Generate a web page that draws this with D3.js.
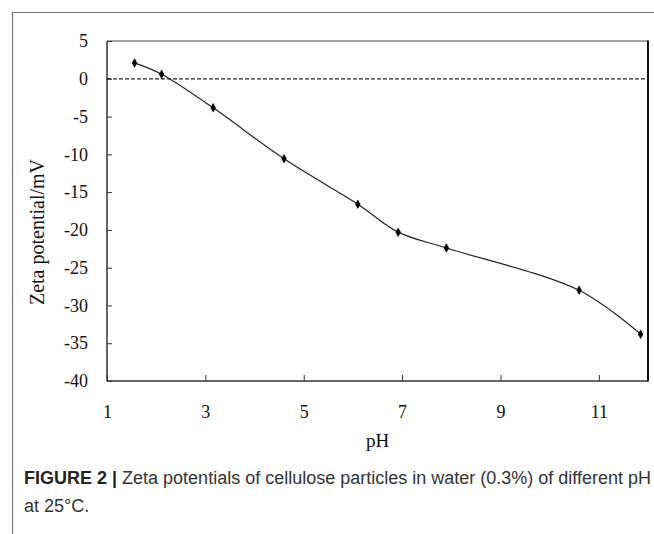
<!DOCTYPE html>
<html>
<head>
<meta charset="utf-8">
<script src="https://cdn.jsdelivr.net/npm/d3@7"></script>
<style>
  body { margin: 0; background: #fff; }
  svg { display: block; }
</style>
</head>
<body>
<svg id="chart" width="654" height="534"></svg>
<script>
// values
const phValues = [1.56, 2.11, 3.16, 4.6, 6.1, 6.92, 7.9, 10.6, 11.85];
const zetaValues = [2.1, 0.6, -3.85, -10.6, -16.6, -20.3, -22.4, -28.0, -33.8];
const xTicks = [1, 3, 5, 7, 9, 11];
const yTicks = [5, 0, -5, -10, -15, -20, -25, -30, -35, -40];

const points = phValues.map((ph, i) => ({ ph, zeta: zetaValues[i] }));

const MARGINS = { top: 41, bottom: 153, left: 107, right: 6 };
const svg = d3.select('#chart');
const width = +svg.attr('width');
const height = +svg.attr('height');
const chartWidth = width - MARGINS.left - MARGINS.right;
const chartHeight = height - MARGINS.top - MARGINS.bottom;

const scaleX = d3.scaleLinear().domain([1, 12]).range([MARGINS.left, MARGINS.left + chartWidth]);
const scaleY = d3.scaleLinear().domain([-40, 5]).range([MARGINS.top + chartHeight, MARGINS.top]);

// outer figure frame (cut off at right and bottom)
svg.append('path')
  .attr('d', `M12.5,${height + 2} V12.5 H${width + 2}`)
  .attr('fill', 'none')
  .attr('stroke', '#777')
  .attr('stroke-width', 1.2);

// plot box: thin top, heavy right
svg.append('line')
  .attr('x1', scaleX(1)).attr('x2', scaleX(12))
  .attr('y1', scaleY(5)).attr('y2', scaleY(5))
  .attr('stroke', '#444').attr('stroke-width', 1);
svg.append('line')
  .attr('x1', scaleX(12)).attr('x2', scaleX(12))
  .attr('y1', scaleY(5) - 0.5).attr('y2', scaleY(-40) + 0.5)
  .attr('stroke', '#111').attr('stroke-width', 2);

// axes
const axisX = svg.append('g')
  .attr('transform', `translate(0, ${scaleY(-40)})`)
  .call(d3.axisBottom(scaleX).tickValues(xTicks).tickSize(-6).tickPadding(24).tickFormat(d3.format('d')));
const axisY = svg.append('g')
  .attr('transform', `translate(${scaleX(1)}, 0)`)
  .call(d3.axisLeft(scaleY).tickValues(yTicks).tickSize(-5).tickPadding(19).tickFormat(d => d));

[axisX, axisY].forEach(ax => {
  ax.select('.domain').attr('stroke', '#333').attr('stroke-width', 1.5);
  ax.selectAll('line').attr('stroke', '#333');
  ax.selectAll('text')
    .attr('font-family', '"Liberation Serif", "Times New Roman", serif')
    .attr('font-size', 18)
    .attr('fill', '#111');
});
axisY.select('.domain').attr('d', `M0,${scaleY(-40)}V${scaleY(5)}`);
axisX.select('.domain').attr('d', `M${scaleX(1)},0H${scaleX(12)}`);

// zero reference line
svg.append('line')
  .attr('x1', scaleX(1)).attr('x2', scaleX(12))
  .attr('y1', scaleY(0)).attr('y2', scaleY(0))
  .attr('stroke', '#222')
  .attr('stroke-width', 1.2)
  .attr('stroke-dasharray', '4,2');

// smoothed data line
const line = d3.line()
  .x(d => scaleX(d.ph))
  .y(d => scaleY(d.zeta))
  .curve(d3.curveCatmullRom.alpha(0.5));

svg.append('path')
  .datum(points)
  .attr('d', line)
  .attr('fill', 'none')
  .attr('stroke', '#222')
  .attr('stroke-width', 1.2);

svg.append('g')
  .selectAll('path')
  .data(points)
  .join('path')
  .attr('transform', d => `translate(${scaleX(d.ph)}, ${scaleY(d.zeta)})`)
  .attr('d', d3.symbol(d3.symbolDiamond, 26))
  .attr('fill', '#000');

// axis titles
svg.append('text')
  .attr('x', scaleX(6.5)).attr('y', 447)
  .attr('text-anchor', 'middle')
  .attr('font-family', '"Liberation Serif", "Times New Roman", serif')
  .attr('font-size', 19)
  .attr('fill', '#111')
  .text('pH');

svg.append('text')
  .attr('transform', 'translate(44, 232) rotate(-90)')
  .attr('text-anchor', 'middle')
  .attr('font-family', '"Liberation Serif", "Times New Roman", serif')
  .attr('font-size', 20)
  .attr('fill', '#111')
  .text('Zeta potential/mV');

// caption
const caption = svg.append('text')
  .attr('font-family', '"Liberation Sans", Arial, sans-serif')
  .attr('font-size', 18)
  .attr('fill', '#333');
caption.append('tspan').attr('x', 24).attr('y', 484)
  .attr('font-weight', 'bold').attr('fill', '#222').text('FIGURE 2 | ');
caption.append('tspan').text('Zeta potentials of cellulose particles in water (0.3%) of different pH');
caption.append('tspan').attr('x', 24).attr('y', 512).text('at 25°C.');
</script>
</body>
</html>
